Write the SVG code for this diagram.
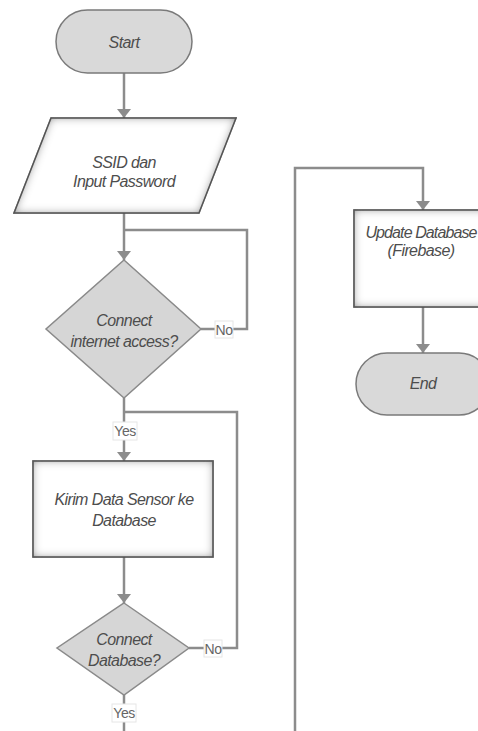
<svg xmlns="http://www.w3.org/2000/svg" width="478" height="731" viewBox="0 0 478 731">
<style>
.conn{fill:none;stroke:#8c8c8c;stroke-width:2.5}
.term{fill:#d9d9d9;stroke:#7a7a7a;stroke-width:1.5}
.dec{fill:#d6d6d6;stroke:#8a8a8a;stroke-width:1.5}
.proc{fill:#ffffff;stroke:#505050;stroke-width:1.5}
.t{font-family:"Liberation Sans",Arial,sans-serif;font-style:italic;font-size:16px;letter-spacing:-0.6px;fill:#4d4d4d;text-anchor:middle}
.lbl{font-family:"Liberation Sans",Arial,sans-serif;font-size:14px;letter-spacing:-0.5px;fill:#666;text-anchor:middle}
.lblbox{fill:#fff;stroke:#e6e6e6;stroke-width:1}
</style>
<defs>
<marker id="arr" markerUnits="userSpaceOnUse" viewBox="0 0 9 14" markerWidth="9" markerHeight="14" refX="9" refY="7" orient="auto">
<path d="M0,0 L9,7 L0,14 z" fill="#8c8c8c"/>
</marker>
<filter id="inner" x="-10%" y="-10%" width="120%" height="120%">
<feFlood flood-color="#5a5a5a" result="f"/>
<feComposite in="f" in2="SourceAlpha" operator="out" result="o"/>
<feGaussianBlur in="o" stdDeviation="5" result="b"/>
<feComposite in="b" in2="SourceAlpha" operator="in" result="s"/>
<feMerge><feMergeNode in="SourceGraphic"/><feMergeNode in="s"/></feMerge>
</filter>
</defs>
<g id="connectors">
<path class="conn" d="M124,73 V118" marker-end="url(#arr)"/>
<path class="conn" d="M124,213 V260" marker-end="url(#arr)"/>
<path class="conn" d="M201,329 H247 V230 H124"/>
<path class="conn" d="M124,398 V461" marker-end="url(#arr)"/>
<path class="conn" d="M189,648 H237 V412 H124"/>
<path class="conn" d="M124,557 V603" marker-end="url(#arr)"/>
<path class="conn" d="M124,695 V731"/>
<path class="conn" d="M295,731 V168 H423 V210" marker-end="url(#arr)"/>
<path class="conn" d="M423,307 V353" marker-end="url(#arr)"/>
<g id="label-no1"><rect class="lblbox" x="215" y="321" width="18" height="17"/><text class="lbl" x="224" y="335">No</text></g>
<g id="label-yes1"><rect class="lblbox" x="113" y="422" width="24" height="18"/><text class="lbl" x="125" y="436">Yes</text></g>
<g id="label-no2"><rect class="lblbox" x="204" y="640" width="18" height="17"/><text class="lbl" x="213" y="654">No</text></g>
<g id="label-yes2"><rect class="lblbox" x="112" y="704" width="24" height="18"/><text class="lbl" x="124" y="718">Yes</text></g>
</g>
<g id="start">
<rect class="term" x="56" y="10" width="136" height="63" rx="31.5"/>
<text class="t" x="124" y="48">Start</text>
</g>
<g id="input">
<polygon class="proc" points="51,118 236,118 199,213 14,213" filter="url(#inner)"/>
<text class="t" x="124" y="168">SSID dan</text>
<text class="t" x="124" y="187">Input Password</text>
</g>
<g id="decision1">
<polygon class="dec" points="124,260 201,329 124,398 46,329"/>
<text class="t" x="124" y="326">Connect</text>
<text class="t" x="124" y="347">internet access?</text>
</g>
<g id="kirim">
<rect class="proc" x="33" y="461" width="180" height="96" filter="url(#inner)"/>
<text class="t" x="124" y="505">Kirim Data Sensor ke</text>
<text class="t" x="124" y="526">Database</text>
</g>
<g id="decision2">
<polygon class="dec" points="124,603 189,648 124,695 57,648"/>
<text class="t" x="124" y="645">Connect</text>
<text class="t" x="124" y="666">Database?</text>
</g>
<g id="update">
<rect class="proc" x="354" y="210" width="138" height="97" filter="url(#inner)"/>
<text class="t" x="421" y="238" style="letter-spacing:-0.9px">Update Database</text>
<text class="t" x="421" y="256">(Firebase)</text>
</g>
<g id="end">
<rect class="term" x="356" y="353" width="134" height="62" rx="31"/>
<text class="t" x="423" y="389">End</text>
</g>
</svg>
